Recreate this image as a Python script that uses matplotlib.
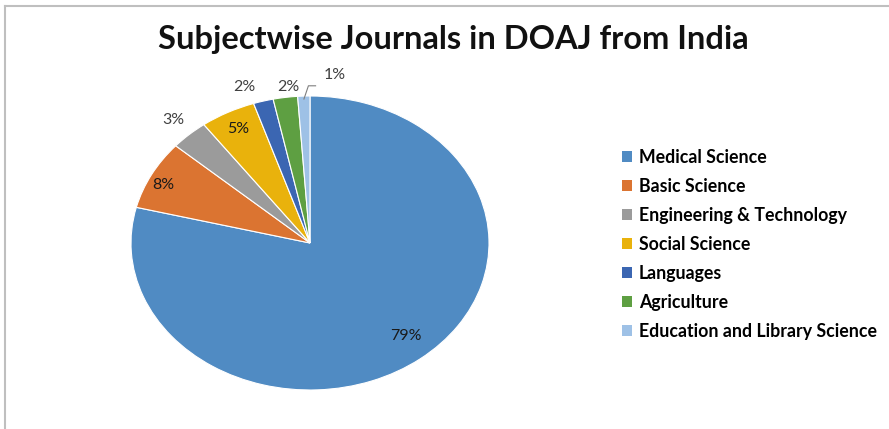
"""
Subjectwise journals in DOAJ from India, pie chart with legend.

Run:
    python plot.py
"""

import matplotlib.pyplot as plt
import numpy as np
from matplotlib.lines import Line2D
from matplotlib.patches import Patch

SUBJECTS = [
    "Medical Science",
    "Basic Science",
    "Engineering & Technology",
    "Social Science",
    "Languages",
    "Agriculture",
    "Education and Library Science",
]
SHARES = [78.9, 7.6, 3.4, 5.0, 1.8, 2.2, 1.1]
COLORS = ["#508BC3", "#DB7431", "#9B9B9B", "#E9B20C", "#3B66B2", "#5E9F42", "#9EC1E6"]

# label placement: (radius, angle shift in degrees)
LABEL_POS = [(0.83, 2), (0.91, 2), (1.13, 0), (0.87, 0), (1.12, 4), (1.07, -1.5), (1.15, -9)]
INSIDE = [True, True, False, True, False, False, False]

plt.rcParams["font.family"] = ["Lato", "DejaVu Sans"]

fig = plt.figure(figsize=(8.89, 4.29), dpi=100)

# chart area border (top and left edges visible)
fig.add_artist(Line2D([5 / 889, 1], [1 - 6 / 429, 1 - 6 / 429], color="#BFBFBF", lw=1.5))
fig.add_artist(Line2D([5 / 889, 5 / 889], [0, 1 - 6 / 429], color="#BFBFBF", lw=1.5))

ax = fig.add_axes([131 / 889, 39 / 429, 358 / 889, 294 / 429])
wedges, _ = ax.pie(
    SHARES,
    colors=COLORS,
    startangle=90,
    counterclock=False,
    radius=1,
    wedgeprops={"linewidth": 0.8, "edgecolor": "white"},
)
ax.set_aspect("auto")
ax.set_xlim(-1, 1)
ax.set_ylim(-1, 1)
ax.axis("off")

total = sum(SHARES)
for wedge, share, (r, shift), inside in zip(wedges, SHARES, LABEL_POS, INSIDE):
    mid = np.deg2rad((wedge.theta1 + wedge.theta2) / 2 + shift)
    x, y = r * np.cos(mid), r * np.sin(mid)
    ax.text(x, y, f"{share / total * 100:.0f}%", ha="center", va="center",
            fontsize=11.5, color="#1A1A1A" if inside else "#404040")

# leader line for the smallest slice
edu = wedges[-1]
mid = np.deg2rad((edu.theta1 + edu.theta2) / 2)
x0, y0 = 0.98 * np.cos(mid), 0.98 * np.sin(mid)
ax.plot([x0, x0 + 0.025, x0 + 0.065], [y0, y0 + 0.09, y0 + 0.09],
        color="#7F7F7F", lw=0.8, clip_on=False)

fig.text(453 / 889, 1 - 40 / 429, "Subjectwise Journals in DOAJ from India",
         ha="center", va="center", fontsize=23.5, fontweight="bold", color="#111111")

handles = [Patch(facecolor=c, edgecolor="none") for c in COLORS]
fig.legend(
    handles,
    SUBJECTS,
    loc="upper left",
    bbox_to_anchor=(606 / 889, 1 - 133 / 429),
    frameon=False,
    handlelength=0.58,
    handleheight=0.58,
    handletextpad=0.36,
    labelspacing=0.675,
    prop={"weight": "bold", "size": 12.8},
)

fig.savefig("out.png", dpi=100)
